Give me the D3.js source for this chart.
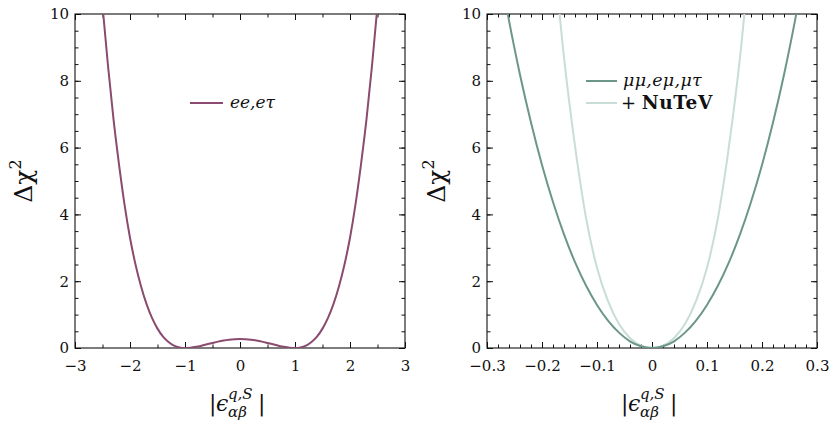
<!DOCTYPE html>
<html>
<head>
<meta charset="utf-8">
<script src="https://cdn.jsdelivr.net/npm/d3@7"></script>
<style>
  html, body { margin: 0; padding: 0; background: #fff; }
  svg { display: block; }
  text { font-family: "DejaVu Serif", "Liberation Serif", serif; fill: #111; }
</style>
</head>
<body>
<svg id="chart" width="830" height="431"></svg>
<script>
// ---------------- data ----------------
// Left panel: ee, eτ  (Δχ² vs |ε|)
const leftX = [-2.6, -2.5, -2.4, -2.3, -2.2, -2.1, -2.0, -1.9, -1.8, -1.7, -1.6, -1.5, -1.4, -1.3, -1.2, -1.1,
               -1.0, -0.9, -0.8, -0.7, -0.6, -0.5, -0.4, -0.3, -0.2, -0.1, 0,
               0.1, 0.2, 0.3, 0.4, 0.5, 0.6, 0.7, 0.8, 0.9, 1.0,
               1.1, 1.2, 1.3, 1.4, 1.5, 1.6, 1.7, 1.8, 1.9, 2.0, 2.1, 2.2, 2.3, 2.4, 2.5, 2.6];
const leftY = [12.2, 10.25, 8.45, 6.85, 5.5, 4.3, 3.3, 2.5, 1.85, 1.32, 0.9, 0.58, 0.34, 0.18, 0.072, 0.016,
               0, 0.01, 0.035, 0.07, 0.111, 0.152, 0.191, 0.224, 0.249, 0.265, 0.27,
               0.265, 0.249, 0.224, 0.191, 0.152, 0.111, 0.07, 0.035, 0.01, 0,
               0.016, 0.072, 0.18, 0.34, 0.58, 0.9, 1.32, 1.85, 2.5, 3.3, 4.3, 5.5, 6.85, 8.45, 10.25, 12.2];
// Right panel: μμ, eμ, μτ
const rightDarkX = [-0.28, -0.26, -0.24, -0.22, -0.20, -0.18, -0.16, -0.14, -0.12, -0.10, -0.08, -0.06, -0.04, -0.02, 0,
                    0.02, 0.04, 0.06, 0.08, 0.10, 0.12, 0.14, 0.16, 0.18, 0.20, 0.22, 0.24, 0.26, 0.28];
const rightDarkY = [11.6, 9.8, 8.18, 6.75, 5.48, 4.37, 3.4, 2.57, 1.87, 1.29, 0.82, 0.46, 0.2, 0.05, 0,
                    0.05, 0.2, 0.46, 0.82, 1.29, 1.87, 2.57, 3.4, 4.37, 5.48, 6.75, 8.18, 9.8, 11.6];
// Right panel: + NuTeV
const rightLightX = [-0.18, -0.16, -0.14, -0.12, -0.10, -0.08, -0.06, -0.04, -0.02, 0,
                     0.02, 0.04, 0.06, 0.08, 0.10, 0.12, 0.14, 0.16, 0.18];
const rightLightY = [12.1, 8.7, 6.05, 3.9, 2.4, 1.4, 0.72, 0.3, 0.07, 0,
                     0.07, 0.3, 0.72, 1.4, 2.4, 3.9, 6.05, 8.7, 12.1];

const leftXTicks = [-3, -2, -1, 0, 1, 2, 3];
const rightXTicks = [-0.3, -0.2, -0.1, 0, 0.1, 0.2, 0.3];
const yTicks = [0, 2, 4, 6, 8, 10];
const leftXMinor = d3.range(-3, 3.0001, 0.5);
const rightXMinor = d3.range(-30, 30.001, 2).map(d => d / 100);
const yMinor = d3.range(0, 10.0001, 0.5);

const legendLeft = ["ee,eτ"];
const legendRight = ["μμ,eμ,μτ", "NuTeV"];

const colPurple = "#8b4a6f";
const colDark = "#6b9688";
const colLight = "#c9ddd7";

// ---------------- drawing ----------------
const svg = d3.select("#chart");

const panels = [
  { x0: 75, x1: 405, dom: [-3, 3], ticks: leftXTicks, minor: leftXMinor,
    fmt: d => d3.format("d")(d), ylabX: 32, id: "L" },
  { x0: 487, x1: 817, dom: [-0.3, 0.3], ticks: rightXTicks, minor: rightXMinor,
    fmt: d => Math.abs(d) < 1e-9 ? "0" : d3.format(".1f")(d), ylabX: 445, id: "R" }
];
const yTop = 14, yBot = 348;

panels.forEach(p => {
  p.x = d3.scaleLinear().domain(p.dom).range([p.x0, p.x1]);
  p.y = d3.scaleLinear().domain([0, 10]).range([yBot, yTop]);
  const g = svg.append("g");

  g.append("clipPath").attr("id", "clip" + p.id)
    .append("rect").attr("x", p.x0).attr("y", yTop)
    .attr("width", p.x1 - p.x0).attr("height", yBot - yTop);

  const mk = (axisFn, scale, vals, size, labels, transform, fmt) => {
    const ax = axisFn(scale).tickValues(vals).tickSize(size).tickPadding(6)
      .tickFormat(labels ? fmt : () => "");
    const ag = g.append("g").attr("transform", transform).call(ax);
    ag.select(".domain").remove();
    ag.selectAll(".tick line").attr("stroke", "#111").attr("stroke-width", 1);
    ag.selectAll(".tick text").attr("font-size", 15).attr("fill", "#111")
      .attr("font-family", "DejaVu Serif, serif");
    if (!labels) ag.selectAll(".tick text").remove();
    return ag;
  };
  // bottom
  const bx = mk(d3.axisBottom, p.x, p.ticks, -6, true, `translate(0,${yBot})`, p.fmt);
  bx.selectAll(".tick text").attr("dy", null).attr("y", 23);
  mk(d3.axisBottom, p.x, p.minor, -3.5, false, `translate(0,${yBot})`);
  // top
  mk(d3.axisTop, p.x, p.ticks, -6, false, `translate(0,${yTop})`);
  mk(d3.axisTop, p.x, p.minor, -3.5, false, `translate(0,${yTop})`);
  // left
  const ly = mk(d3.axisLeft, p.y, yTicks, -6, true, `translate(${p.x0},0)`, d => d3.format("d")(d));
  ly.selectAll(".tick text").attr("x", -6);
  mk(d3.axisLeft, p.y, yMinor, -3.5, false, `translate(${p.x0},0)`);
  // right
  mk(d3.axisRight, p.y, yTicks, -6, false, `translate(${p.x1},0)`);
  mk(d3.axisRight, p.y, yMinor, -3.5, false, `translate(${p.x1},0)`);

  // frame
  g.append("rect").attr("x", p.x0).attr("y", yTop)
    .attr("width", p.x1 - p.x0).attr("height", yBot - yTop)
    .attr("fill", "none").attr("stroke", "#111").attr("stroke-width", 1.1);

  // y label Δχ²
  const yl = g.append("text")
    .attr("transform", `translate(${p.ylabX},181) rotate(-90)`)
    .attr("text-anchor", "middle").attr("font-size", 25)
    .attr("font-family", "DejaVu Serif, serif");
  yl.append("tspan").text("Δχ");
  yl.append("tspan").attr("font-size", 16).attr("dy", -11).text("2");

  // x label |ε^{q,S}_{αβ}|
  const cx = (p.x0 + p.x1) / 2;
  g.append("text").attr("x", cx - 31).attr("y", 411).attr("font-size", 22).text("|");
  g.append("text").attr("x", cx - 24).attr("y", 411).attr("font-size", 22)
    .attr("font-style", "italic").text("ϵ");
  g.append("text").attr("x", cx - 12).attr("y", 399).attr("font-size", 15)
    .attr("font-style", "italic").text("q,S");
  g.append("text").attr("x", cx - 12).attr("y", 417).attr("font-size", 15)
    .attr("font-style", "italic").text("αβ");
  g.append("text").attr("x", cx + 18).attr("y", 411).attr("font-size", 22).text("|");
});

// curves
const drawCurve = (p, xs, ys, color) => {
  const pts = xs.map((d, i) => [d, ys[i]]);
  const line = d3.line().x(d => p.x(d[0])).y(d => p.y(d[1])).curve(d3.curveMonotoneX);
  svg.append("path").datum(pts).attr("d", line)
    .attr("clip-path", `url(#clip${p.id})`)
    .attr("fill", "none").attr("stroke", color).attr("stroke-width", 2);
};
drawCurve(panels[0], leftX, leftY, colPurple);
drawCurve(panels[1], rightLightX, rightLightY, colLight);
drawCurve(panels[1], rightDarkX, rightDarkY, colDark);

// legends
const lg = svg.append("g");
lg.append("line").attr("x1", 190).attr("x2", 223).attr("y1", 103).attr("y2", 103)
  .attr("stroke", colPurple).attr("stroke-width", 2);
lg.append("text").attr("x", 230).attr("y", 108).attr("font-size", 17)
  .attr("font-style", "italic").text(legendLeft[0]);

lg.append("line").attr("x1", 586).attr("x2", 617).attr("y1", 81).attr("y2", 81)
  .attr("stroke", colDark).attr("stroke-width", 2);
lg.append("text").attr("x", 623).attr("y", 86).attr("font-size", 17.5)
  .attr("font-style", "italic").attr("letter-spacing", 0.3).text(legendRight[0]);
lg.append("line").attr("x1", 586).attr("x2", 617).attr("y1", 103).attr("y2", 103)
  .attr("stroke", colLight).attr("stroke-width", 2);
const t2 = lg.append("text").attr("x", 621).attr("y", 109).attr("font-size", 18);
t2.append("tspan").text("+ ");
t2.append("tspan").attr("font-weight", "bold").attr("font-size", 18.5)
  .attr("letter-spacing", 0.6).text(legendRight[1]);
</script>
</body>
</html>
